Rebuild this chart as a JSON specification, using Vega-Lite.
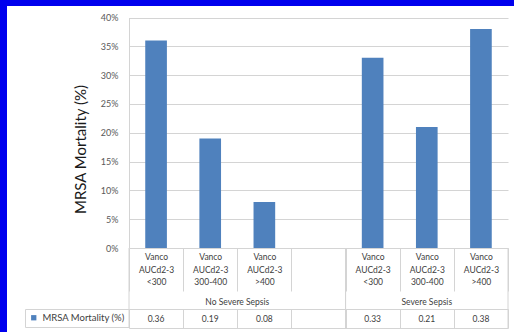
{
  "$schema": "https://vega.github.io/schema/vega-lite/v6.json",
  "width": 507,
  "height": 326,
  "autosize": {"type": "none"},
  "padding": {"left": 7, "top": 6, "right": 0, "bottom": 0},
  "background": "#0000ee",
  "config": {
    "view": {"fill": "white", "stroke": null},
    "font": "Lato",
    "axis": {"domainColor": "#d4d4d4", "tickColor": "#d4d4d4", "domainWidth": 1, "tickWidth": 1}
  },
  "datasets": {
    "bars": [
      {"cat": "No Severe Sepsis: <300", "group": "No Severe Sepsis", "mortality": 0.36},
      {"cat": "No Severe Sepsis: 300-400", "group": "No Severe Sepsis", "mortality": 0.19},
      {"cat": "No Severe Sepsis: >400", "group": "No Severe Sepsis", "mortality": 0.08},
      {"cat": "Severe Sepsis: <300", "group": "Severe Sepsis", "mortality": 0.33},
      {"cat": "Severe Sepsis: 300-400", "group": "Severe Sepsis", "mortality": 0.21},
      {"cat": "Severe Sepsis: >400", "group": "Severe Sepsis", "mortality": 0.38}
    ],
    "groups": [
      {"group": "No Severe Sepsis", "first": "No Severe Sepsis: <300", "last": "(blank)", "labelAt": "No Severe Sepsis: >400"},
      {"group": "Severe Sepsis", "first": "Severe Sepsis: <300", "last": "Severe Sepsis: >400", "labelAt": "Severe Sepsis: 300-400"}
    ]
  },
  "resolve": {"axis": {"x": "independent", "y": "independent"}},
  "layer": [
    {
      "data": {"name": "groups"},
      "mark": {"type": "rule", "y2Offset": 80, "color": "#d4d4d4", "strokeWidth": 1},
      "encoding": {
        "x": {"field": "first", "type": "nominal", "bandPosition": 0, "axis": null},
        "y": {
          "datum": 0,
          "axis": {
            "orient": "right",
            "offset": -6,
            "title": null,
            "domain": false,
            "labels": false,
            "grid": false,
            "ticks": true,
            "tickSize": -379,
            "values": [0.05, 0.1, 0.15, 0.2, 0.25, 0.3, 0.35, 0.4]
          }
        },
        "y2": {"datum": 0}
      }
    },
    {
      "data": {"name": "groups"},
      "mark": {"type": "rule", "y2Offset": 80, "color": "#d4d4d4", "strokeWidth": 1},
      "encoding": {
        "x": {"field": "last", "type": "nominal", "bandPosition": 1, "axis": null},
        "y": {"datum": 0, "axis": null},
        "y2": {"datum": 0}
      }
    },
    {
      "data": {"name": "bars"},
      "mark": {"type": "bar", "width": {"band": 0.4}},
      "encoding": {
        "x": {
          "field": "cat",
          "type": "nominal",
          "scale": {
            "domain": ["No Severe Sepsis: <300", "No Severe Sepsis: 300-400", "No Severe Sepsis: >400", "(blank)", "Severe Sepsis: <300", "Severe Sepsis: 300-400", "Severe Sepsis: >400"],
            "range": [122, 501],
            "paddingInner": 0,
            "paddingOuter": 0
          },
          "axis": {
            "orient": "bottom",
            "offset": -84,
            "title": null,
            "domain": true,
            "ticks": true,
            "tickBand": "extent",
            "tickSize": 43,
            "labelPadding": -38.5,
            "labelAngle": 0,
            "labelFontSize": 8.5,
            "labelColor": "#404040",
            "labelLineHeight": 12.5,
            "labelOverlap": false,
            "labelBound": false,
            "labelExpr": "(isString(datum.value) && indexof(datum.value, ': ') >= 0) ? ['Vanco', 'AUCd2-3', split(datum.value, ': ')[1]] : ''"
          }
        },
        "y": {
          "field": "mortality",
          "type": "quantitative",
          "scale": {"domain": [0, 0.4], "range": [242, 11.5], "nice": false, "zero": true},
          "axis": {
            "orient": "left",
            "offset": -122,
            "grid": false,
            "domain": true,
            "ticks": false,
            "labelPadding": 11,
            "values": [0, 0.05, 0.1, 0.15, 0.2, 0.25, 0.3, 0.35, 0.4],
            "format": ".0%",
            "labelFontSize": 9,
            "labelColor": "#595959",
            "title": "MRSA Mortality (%)",
            "titleFontSize": 15,
            "titleFontWeight": "normal",
            "titleColor": "#1a1a1a",
            "titleX": -49,
            "titleY": 143,
            "titleAngle": -90,
            "titleAlign": "center",
            "titleBaseline": "middle"
          }
        },
        "color": {
          "datum": "MRSA Mortality (%)",
          "type": "nominal",
          "scale": {"range": ["#4f81bd"]},
          "legend": {
            "orient": "none",
            "legendX": 18,
            "legendY": 303,
            "title": null,
            "strokeColor": "#d4d4d4",
            "padding": 4,
            "symbolType": "square",
            "symbolSize": 28,
            "symbolStrokeWidth": 0,
            "labelFontSize": 9.5,
            "labelColor": "#404040",
            "labelOffset": 4
          }
        }
      }
    },
    {
      "data": {"name": "bars"},
      "mark": {"type": "text", "yOffset": 71, "baseline": "middle", "align": "center", "fontSize": 8.5, "color": "#404040"},
      "encoding": {
        "x": {
          "field": "cat",
          "type": "nominal",
          "axis": {
            "orient": "bottom",
            "offset": -23,
            "title": null,
            "domain": true,
            "ticks": true,
            "tickBand": "extent",
            "tickSize": 19,
            "labels": false
          }
        },
        "y": {"datum": 0, "axis": null},
        "text": {"field": "mortality", "type": "quantitative", "format": ".2f"}
      }
    },
    {
      "data": {"name": "groups"},
      "transform": [{"filter": "datum.group == 'No Severe Sepsis'"}],
      "mark": {"type": "text", "yOffset": 54, "baseline": "middle", "align": "center", "fontSize": 8.5, "color": "#404040"},
      "encoding": {
        "x": {
          "field": "labelAt",
          "type": "nominal",
          "bandPosition": 0,
          "axis": {
            "orient": "bottom",
            "offset": -4,
            "title": null,
            "domain": true,
            "ticks": false,
            "labels": false
          }
        },
        "y": {"datum": 0, "axis": null},
        "text": {"field": "group"}
      }
    },
    {
      "data": {"name": "groups"},
      "transform": [{"filter": "datum.group == 'Severe Sepsis'"}],
      "mark": {"type": "text", "yOffset": 54, "baseline": "middle", "align": "center", "fontSize": 8.5, "color": "#404040"},
      "encoding": {
        "x": {"field": "labelAt", "type": "nominal", "bandPosition": 0.5, "axis": null},
        "y": {"datum": 0, "axis": null},
        "text": {"field": "group"}
      }
    }
  ]
}
